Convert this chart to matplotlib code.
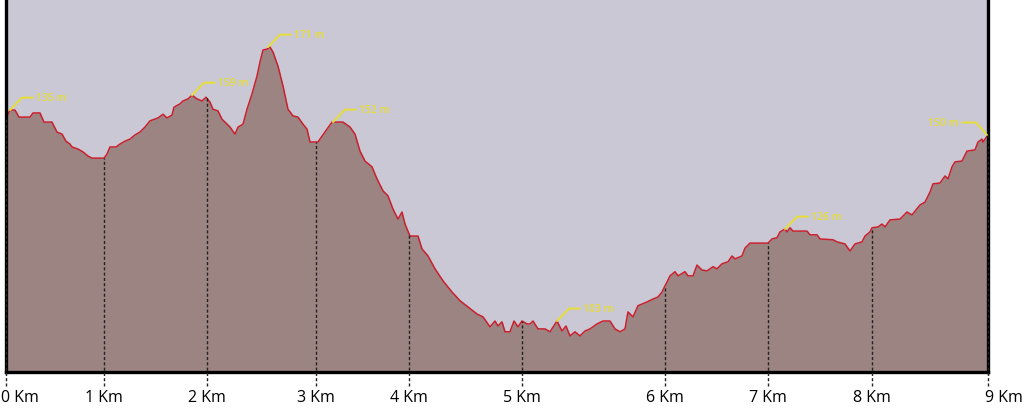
import numpy as np
import matplotlib
matplotlib.use('Agg')
import matplotlib.pyplot as plt
from matplotlib.transforms import ScaledTranslation

# elevation profile (track position, elevation in m)
pos = [0, 4, 9, 13, 24, 27, 34, 38, 46, 51, 56, 60, 64, 66, 72, 77, 82, 86, 98, 101,
       104, 110, 114, 119, 124, 129, 134, 139, 144, 152, 157, 161, 166, 168, 174, 177, 182, 186, 191, 196,
       200, 204, 207, 212, 216, 221, 224, 229, 232, 237, 241, 246, 251, 254, 257, 261, 264, 267, 272, 277,
       282, 287, 292, 297, 301, 304, 312, 316, 321, 326, 337, 344, 349, 354, 359, 366, 371, 377, 382, 387,
       392, 396, 399, 404, 412, 416, 422, 429, 437, 446, 454, 462, 471, 477, 484, 489, 492, 496, 499, 504,
       508, 512, 516, 521, 524, 527, 532, 539, 544, 551, 556, 560, 564, 569, 574, 579, 584, 591, 597, 604,
       609, 614, 619, 622, 627, 632, 641, 647, 652, 656, 659, 661, 664, 669, 672, 679, 682, 687, 691, 696,
       701, 707, 711, 716, 722, 726, 729, 736, 739, 744, 762, 766, 771, 774, 779, 781, 784, 787, 801, 804,
       811, 814, 827, 831, 839, 844, 849, 856, 859, 864, 866, 872, 876, 879, 884, 894, 901, 906, 910, 914,
       919, 924, 927, 934, 939, 942, 946, 949, 956, 961, 969, 972, 976, 977, 982]
elev = [153.9, 155.8, 155.8, 154.1, 154.1, 155.1, 155.1, 152.9, 152.9, 150.5, 150.0, 148.3, 147.6, 146.9, 146.4, 145.7, 144.7, 144.2, 144.2, 145.2,
        146.9, 146.9, 147.6, 148.3, 148.8, 149.8, 150.5, 151.7, 153.2, 153.9, 154.8, 153.9, 154.6, 156.5, 157.3, 158.0, 158.5, 159.4, 158.5, 158.0,
        158.9, 157.7, 156.0, 155.6, 153.6, 152.4, 151.7, 150.0, 151.7, 152.4, 156.0, 159.7, 164.0, 167.4, 170.3, 170.5, 171.0, 169.8, 166.4, 161.6,
        156.0, 154.4, 154.1, 152.4, 151.2, 148.1, 148.1, 149.5, 151.2, 152.9, 152.9, 151.7, 150.0, 145.9, 143.5, 142.1, 139.2, 136.3, 135.1, 131.9,
        129.5, 131.2, 128.3, 125.4, 125.4, 122.3, 120.6, 117.5, 114.6, 111.9, 109.8, 108.3, 106.6, 105.9, 103.5, 104.9, 103.7, 104.7, 102.3, 102.3,
        104.9, 103.5, 104.9, 104.2, 104.2, 104.9, 103.0, 103.0, 102.3, 104.9, 102.5, 103.7, 101.3, 102.3, 101.3, 102.5, 103.0, 104.2, 104.9, 104.9,
        103.0, 102.3, 103.0, 107.1, 105.9, 108.6, 109.5, 110.2, 110.7, 111.9, 113.4, 114.3, 115.8, 116.8, 115.8, 116.8, 115.8, 115.8, 118.4, 117.2,
        117.0, 118.0, 117.5, 118.7, 119.2, 120.6, 119.9, 120.6, 122.5, 123.7, 123.7, 124.7, 125.0, 126.4, 127.1, 126.4, 127.4, 126.6, 126.6, 125.7,
        125.7, 124.7, 124.5, 124.0, 123.5, 121.8, 123.5, 124.0, 125.4, 126.4, 127.4, 127.6, 128.3, 127.6, 129.3, 129.5, 131.2, 130.5, 131.7, 132.9,
        133.6, 136.0, 138.0, 138.2, 139.9, 139.2, 142.1, 143.3, 143.5, 145.9, 146.2, 148.1, 148.8, 148.1, 149.8]

km_pos = [0, 98, 201, 310, 403, 516, 659, 762, 866, 982]
km_labels = ['0 Km', '1 Km', '2 Km', '3 Km', '4 Km', '5 Km', '6 Km', '7 Km', '8 Km', '9 Km']

# labelled points: text, position, elevation
ann_text = ['135 m', '159 m', '171 m', '152 m', '103 m', '126 m', '150 m']
ann_pos = [4, 186, 262, 327, 551, 779, 981]
ann_elev = [155.8, 159.4, 171.0, 152.9, 104.9, 127.1, 149.8]

ymin, ymax = 92.6, 182.6

fig = plt.figure(figsize=(10.24, 4.10), dpi=100)
ax = fig.add_axes([6 / 1024, 37 / 410, 982 / 1024, 373 / 410])
ax.set_facecolor('#c9c8d4')

ax.fill_between(pos, ymin, elev, color='#9b8482', lw=0)
ax.plot(pos, elev, color='#c8202c', lw=1.1)

# km markers
for p in km_pos:
    top = np.interp(p, pos, elev)
    ax.vlines(p, ymin - 3.3, top, colors='#222222', linestyles=(0, (2.2, 1.6)),
              lw=1.0, clip_on=False, zorder=3)

# elevation labels with leader lines
yel = '#e8dd35'
for t, p, e in zip(ann_text, ann_pos, ann_elev):
    if p > 900:
        xs = [p, p - 11, p - 25]
        ha, tx = 'right', p - 28
    else:
        xs = [p, p + 12, p + 23]
        ha, tx = 'left', p + 26
    ys = [e, e + 3.0, e + 3.0]
    ax.plot(xs, ys, color=yel, lw=1.4, solid_capstyle='round', zorder=4)
    ax.text(tx, e + 3.0, t, color=yel, fontsize=7.5, ha=ha, va='center',
            family='Open Sans', fontweight='semibold', zorder=4)

ax.set_xlim(0, 982)
ax.set_ylim(ymin, ymax)
ax.set_yticks([])
ax.set_xticks(km_pos)
ax.set_xticklabels(km_labels, fontsize=11.5, family='Open Sans')
ax.tick_params(axis='x', length=0, pad=12)
labs = ax.get_xticklabels()
labs[0].set_ha('left')
labs[0].set_transform(labs[0].get_transform() + ScaledTranslation(-5 / 100, 0, fig.dpi_scale_trans))
labs[-1].set_ha('left')
labs[-1].set_transform(labs[-1].get_transform() + ScaledTranslation(-3 / 100, 0, fig.dpi_scale_trans))

ax.spines['top'].set_visible(False)
for s in ['left', 'right', 'bottom']:
    ax.spines[s].set_linewidth(2.4)
    ax.spines[s].set_color('black')

fig.savefig('out.png', dpi=100, facecolor='white')
